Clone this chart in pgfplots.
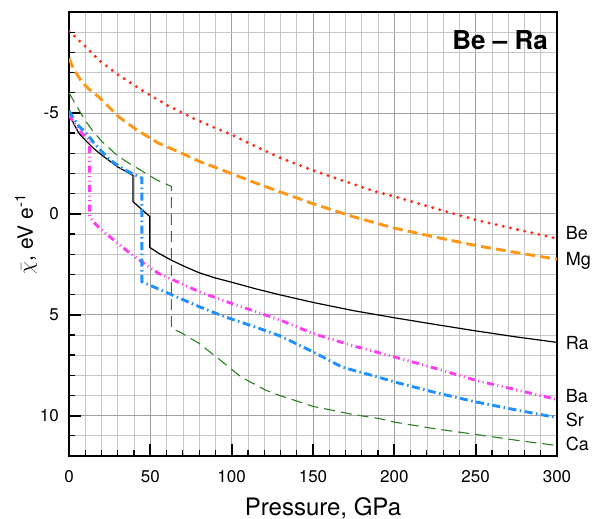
\documentclass[border=0pt]{standalone}
\usepackage{fontspec}
\setmainfont{TeX Gyre Heros}
\usepackage{pgfplots}
\pgfplotsset{compat=1.18}
\definecolor{cBe}{RGB}{255,45,20}
\definecolor{cMg}{RGB}{255,150,20}
\definecolor{cBa}{RGB}{255,60,240}
\definecolor{cSr}{RGB}{30,144,255}
\definecolor{cCa}{RGB}{40,130,30}
\begin{document}
\begin{tikzpicture}
\begin{axis}[
  scale only axis, width=488pt, height=444pt,
  xmin=0, xmax=300, ymin=-10, ymax=12, y dir=reverse,
  xtick={0,50,100,150,200,250,300},
  xticklabels={0,50,100,150,200,250,300},
  minor xtick={0,10,...,300},
  ytick={-5,0,5,10},
  yticklabels={-5,0,5,10},
  minor ytick={-10,-9,...,12},
  tick pos=left, tick align=inside,
  major tick length=12pt, minor tick length=6pt,
  major tick style={line width=2pt, black},
  minor tick style={line width=1.2pt, black},
  grid=both,
  major grid style={gray!75, line width=0.8pt},
  minor grid style={gray!45, line width=0.65pt},
  axis line style={line width=2.2pt},
  tick label style={font=\fontsize{17}{19}\selectfont},
  xticklabel style={inner sep=0pt, anchor=north, yshift=-14pt},
  yticklabel style={inner sep=0pt, anchor=east, xshift=-10pt},
  xlabel={Pressure, GPa},
  xlabel style={font=\fontsize{24}{28}\selectfont, at={(axis description cs:0.5205,0)}, anchor=base, yshift=-59pt},
  ylabel={$\bar{\chi}$, eV e\textsuperscript{-1}},
  ylabel style={font=\fontsize{21}{24}\selectfont, at={(axis description cs:-0.074,0.5)}, anchor=base},
  clip mode=individual,
]
% Be
\addplot[cBe, line width=3.3pt, line cap=round, dash pattern=on 0pt off 7.3pt] coordinates {
(0,-9.05)(10,-8.3)(19,-7.57)(30,-6.9)(46.5,-6.04)(60,-5.4)(76,-4.75)(90,-4.25)(100,-3.92)(115,-3.33)(130,-2.77)(150,-2.15)(170,-1.6)(188,-1.11)(200,-0.86)(225,-0.27)(250,0.3)(275,0.77)(300,1.22)};
% Mg
\addplot[cMg, line width=2.9pt, dash pattern=on 10pt off 5pt] coordinates {
(0,-7.7)(3,-7.15)(7.6,-6.57)(12,-6.2)(18.9,-5.75)(25,-5.25)(31,-4.78)(41.4,-4.17)(55,-3.5)(68,-3.05)(80,-2.6)(90,-2.3)(100,-1.99)(115,-1.52)(130,-1.08)(150,-0.5)(175,0.15)(200,0.71)(225,1.15)(250,1.57)(275,1.92)(300,2.25)};
% Ra
\addplot[black, line width=1.2pt] coordinates {
(0,-5.0)(3,-4.45)(6,-4.0)(10,-3.65)(15,-3.25)(20,-2.92)(25,-2.62)(30,-2.32)(35,-2.1)(39.4,-1.9)(39.4,-0.6)(45,-0.2)(49.6,0.13)(49.6,1.66)(55,1.95)(63,2.3)(70,2.57)(80,2.92)(90,3.18)(100,3.39)(115,3.72)(130,4.02)(150,4.39)(175,4.8)(200,5.15)(225,5.48)(250,5.8)(275,6.1)(300,6.37)};
% Ba
\addplot[cBa, line width=2.9pt, dash pattern=on 7pt off 3.5pt on 1pt off 3.5pt on 1pt off 3.5pt] coordinates {
(0,-4.9)(3,-4.5)(6,-4.15)(9,-3.9)(12.7,-3.68)(12.7,0.13)(15,0.4)(20,0.8)(25,1.13)(35,1.79)(45,2.4)(55,2.95)(62,3.2)(80,3.86)(100,4.44)(115,4.85)(130,5.27)(150,5.93)(175,6.55)(191,6.89)(200,7.09)(225,7.65)(250,8.25)(275,8.72)(300,9.2)};
% Sr
\addplot[cSr, line width=2.9pt, dash pattern=on 8pt off 3.5pt on 1.5pt off 3.5pt] coordinates {
(0,-5.1)(3,-4.7)(6,-4.35)(10,-4.05)(15,-3.55)(20,-3.1)(25,-2.68)(30,-2.4)(35,-2.15)(40,-1.95)(44.8,-1.77)(44.8,3.36)(50,3.55)(60,3.9)(70,4.25)(80,4.6)(90,4.92)(100,5.22)(115,5.62)(130,6.06)(150,6.84)(168,7.6)(191,8.11)(200,8.33)(225,8.85)(250,9.32)(275,9.72)(300,10.1)};
% Ca
\addplot[cCa, line width=1.1pt, dash pattern=on 11pt off 6pt] coordinates {
(0,-6.0)(3.5,-5.5)(9.6,-4.67)(14.8,-4.09)(20,-3.6)(29.1,-2.93)(35,-2.6)(43.5,-2.19)(53.7,-1.69)(62.9,-1.36)(62.9,5.68)(68,5.85)(80,6.42)(93,7.25)(106,8.1)(121,8.74)(129.5,9.0)(150,9.54)(175,9.95)(191,10.15)(200,10.32)(225,10.65)(250,10.93)(275,11.22)(300,11.48)};
\begin{scope}[every node/.style={anchor=mid west, inner sep=0pt, xshift=8.6pt, font=\fontsize{18}{21}\selectfont}]
\node at (axis cs:300,1.16) {Be};
\node at (axis cs:300,2.43) {Mg};
\node at (axis cs:300,6.59) {Ra};
\node at (axis cs:300,9.24) {Ba};
\node at (axis cs:300,10.4) {Sr};
\node at (axis cs:300,11.6) {Ca};
\end{scope}
\node[anchor=base east, inner sep=0pt, font=\fontsize{26}{30}\selectfont\bfseries] at ([xshift=-9pt, yshift=-37.3pt]axis description cs:1,1) {Be -- Ra};
\end{axis}
\pgfresetboundingbox
\path ([shift={(-69pt,-63pt)}]current axis.south west) rectangle ([shift={(38pt,12pt)}]current axis.north east);
\end{tikzpicture}
\end{document}
